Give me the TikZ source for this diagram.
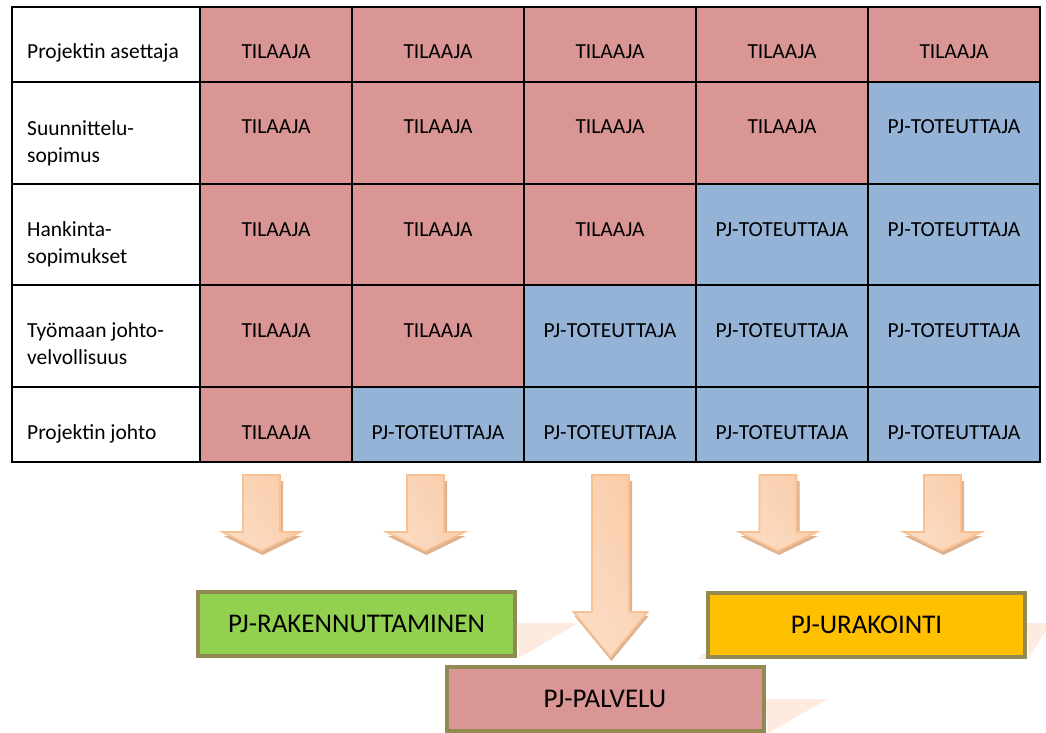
\documentclass[tikz,border=0pt]{standalone}
\usepackage{fontspec}
\setmainfont{Carlito}
\definecolor{tilaaja}{HTML}{D99694}
\definecolor{toteuttaja}{HTML}{95B3D7}
\definecolor{rakgreen}{HTML}{92D050}
\definecolor{urakgold}{HTML}{FFC000}
\definecolor{boxedge}{HTML}{938953}
\definecolor{arrowedge}{HTML}{F9C192}
\definecolor{arrowlight}{HTML}{FDF0E6}
\definecolor{arrowmid}{HTML}{FBDCC4}
\definecolor{arrowdark}{HTML}{FACDAA}
\definecolor{arrowshadow}{HTML}{DDB291}
\definecolor{floorshade}{HTML}{FDEBDF}
% block arrow pointing down: #1 centre x, #2 top, #3 head top, #4 tip, #5 head half width
\newcommand{\downblock}[5]{%
  \fill[arrowshadow] ({#1-18.5+3},{#2+6}) -- ({#1+18.5+3},{#2+6}) -- ({#1+18.5+3},{#3+4})
     -- ({#1+#5+1},{#3+4}) -- ({#1+1},{#4+4}) -- ({#1-#5+1},{#3+4})
     -- ({#1-18.5+3},{#3+4}) -- cycle;
  \path[draw=arrowedge, line width=1.6pt, line join=miter,
        left color=arrowmid, middle color=arrowlight, right color=arrowdark, shading angle=120]
     ({#1-18.5},{#2}) -- ({#1+18.5},{#2}) -- ({#1+18.5},{#3}) -- ({#1+#5},{#3})
     -- ({#1},{#4}) -- ({#1-#5},{#3}) -- ({#1-18.5},{#3}) -- cycle;
}
\begin{document}
\begin{tikzpicture}[x=1pt, y=-1pt,
  celltext/.style={anchor=base, inner sep=0pt, font=\fontsize{21.5}{27}\selectfont},
  rowlabel/.style={anchor=base west, inner sep=0pt, align=left, font=\fontsize{21.5}{27}\selectfont},
  outcome/.style={draw=boxedge, line width=4pt, minimum width=317pt, minimum height=64pt,
                  inner sep=0pt, font=\fontsize{27}{32}\selectfont}]
\useasboundingbox (0,0) rectangle (1046,733);
\fill[white] (0,0) rectangle (1046,733);

% coloured cells with their texts
\foreach \rw/\ya/\yb in {1/7/82, 2/82/184, 3/184/285, 4/285/387, 5/387/462} {
  \foreach \cc/\xa/\xb in {1/200/352, 2/352/524, 3/524/696, 4/696/868, 5/868/1040} {
    \pgfmathtruncatemacro\isblue{\cc>=7-\rw ? 1 : 0}
    \ifnum\isblue=1
      \fill[toteuttaja] (\xa,\ya) rectangle (\xb,\yb);
      \node[celltext] (cell-\rw-\cc) at ({(\xa+\xb)/2},{\ya+52}) {PJ-TOTEUTTAJA};
    \else
      \fill[tilaaja] (\xa,\ya) rectangle (\xb,\yb);
      \node[celltext] (cell-\rw-\cc) at ({(\xa+\xb)/2},{\ya+52}) {TILAAJA};
    \fi
  }
}

% row headings (two-line ones are placed by their last baseline)
\node[rowlabel] (row-1) at (27,59)  {Projektin asettaja};
\node[rowlabel] (row-2) at (27,162) {Suunnittelu-\\sopimus};
\node[rowlabel] (row-3) at (27,263) {Hankinta-\\sopimukset};
\node[rowlabel] (row-4) at (27,364) {Työmaan johto-\\velvollisuus};
\node[rowlabel] (row-5) at (27,439) {Projektin johto};

% grid
\begin{scope}[line width=2.2pt]
  \foreach \yy in {82,184,285,387} \draw (12,\yy) -- (1040,\yy);
  \foreach \xx in {200,352,524,696,868} \draw (\xx,7) -- (\xx,462);
  \draw (12,7) rectangle (1040,462);
\end{scope}

% faint floor reflections behind the result boxes
\fill[floorshade] (517,623) -- (578,623) -- (519,658) -- cycle;
\fill[floorshade] (1027,623) -- (1046,623) -- (1046,630) -- (1029,658) -- cycle;
\fill[floorshade] (697,659) -- (706,652) -- (706,659) -- cycle;
\fill[floorshade] (765,699) -- (828,699) -- (768,733) -- cycle;

% block arrows
\downblock{261.5}{475}{532}{551}{39}
\downblock{425.5}{475}{532}{551}{39}
\downblock{610.5}{475}{612}{657}{37}
\downblock{778}{475}{532}{551}{39}
\downblock{942.5}{475}{532}{551}{39}

% result boxes
\node[outcome, fill=rakgreen] (rak) at (356.5,624) {PJ-RAKENNUTTAMINEN};
\node[outcome, fill=urakgold] (urak) at (866.5,624.5) {PJ-URAKOINTI};
\node[outcome, fill=tilaaja] (palv) at (605,699) {PJ-PALVELU};
\end{tikzpicture}
\end{document}
